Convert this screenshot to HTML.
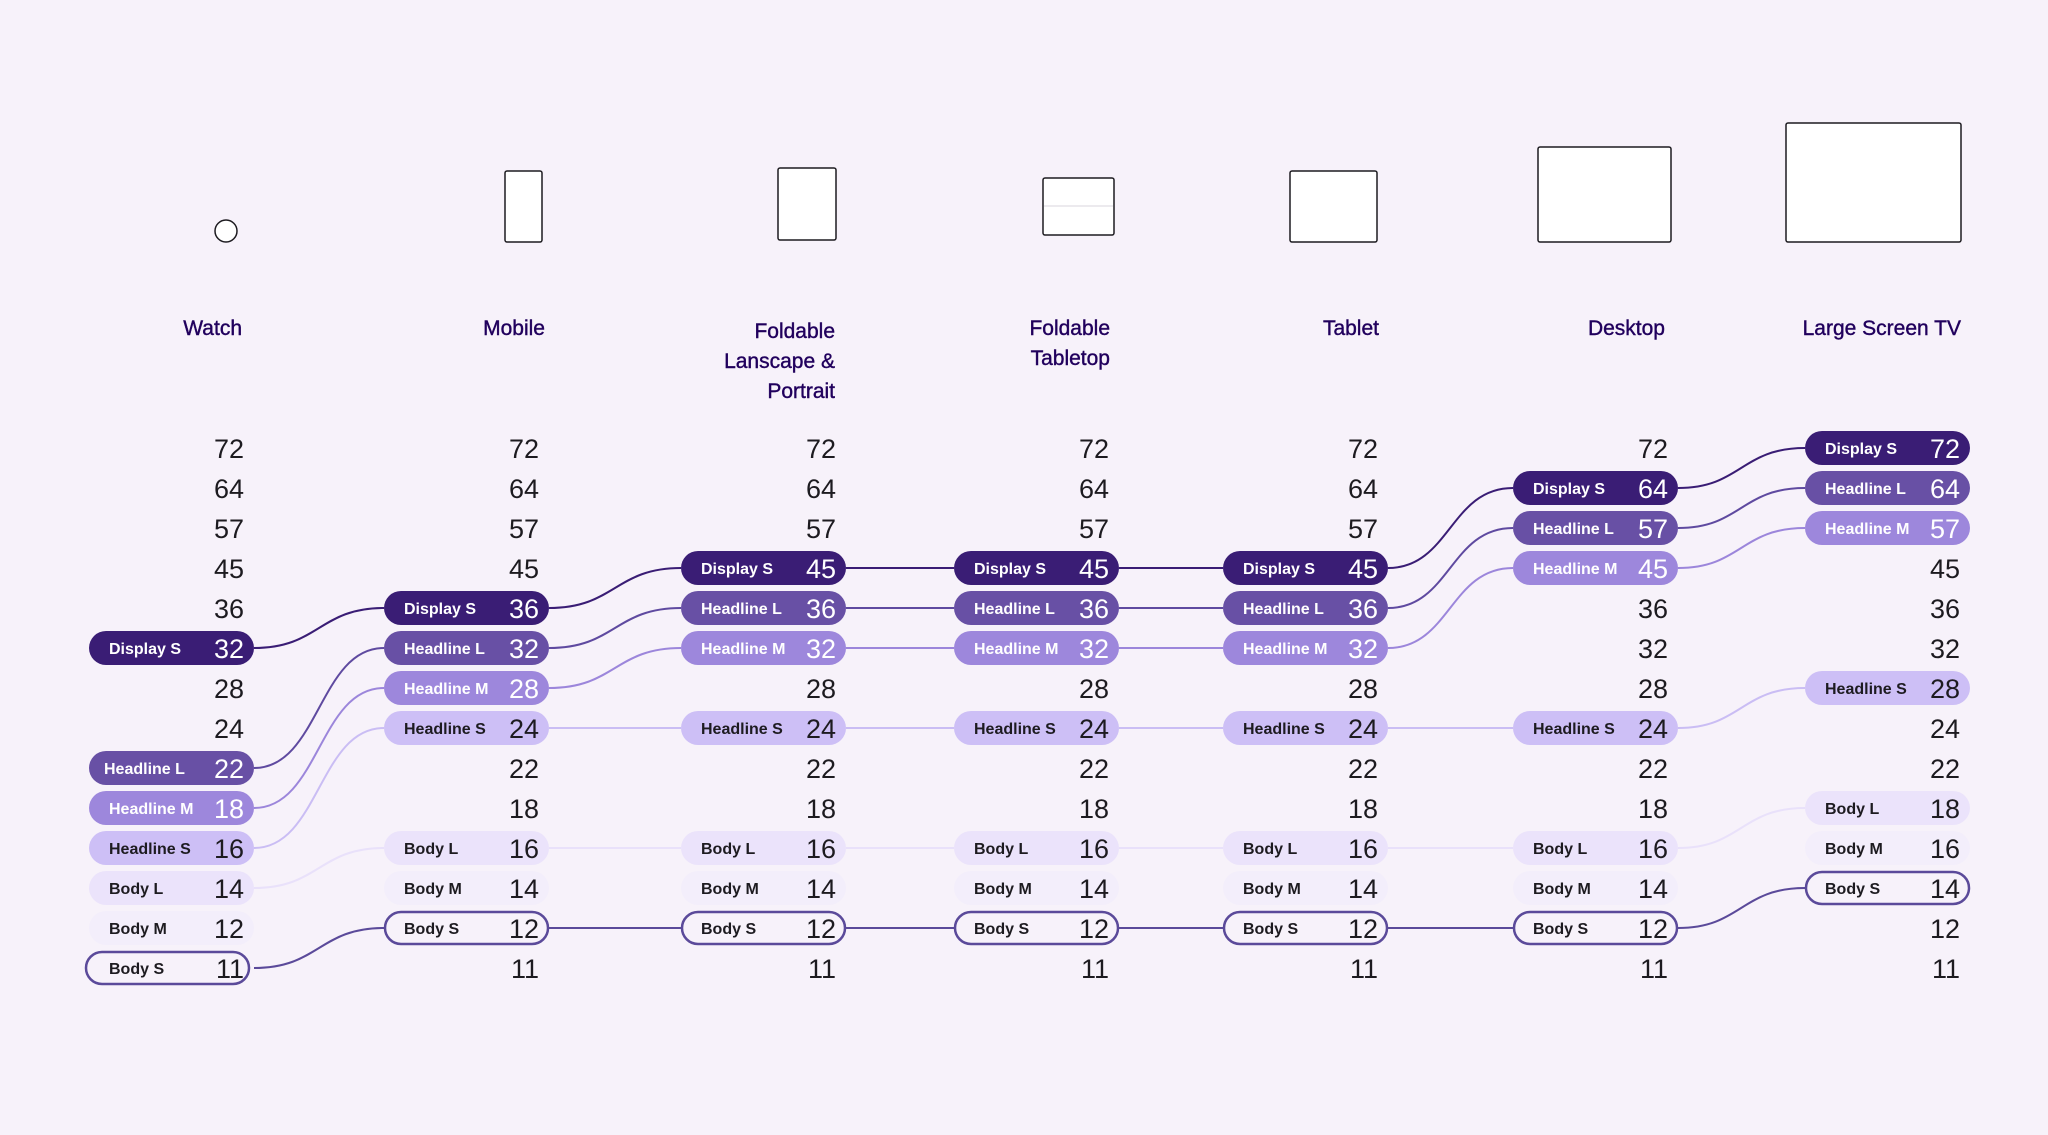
<!DOCTYPE html>
<html><head><meta charset="utf-8"><style>
html,body{margin:0;padding:0;background:#f7f2fa;}
svg{display:block;}
text{font-family:"Liberation Sans",Arial,sans-serif;}
.h{font-size:21px;fill:#21005d;text-anchor:end;stroke:#21005d;stroke-width:0.4;}
.n{font-size:27px;fill:#1d1b20;text-anchor:end;}
.nw{font-size:27px;fill:#ffffff;text-anchor:end;}
.lw{font-size:16px;font-weight:bold;fill:#ffffff;}
.ld{font-size:16px;font-weight:bold;fill:#1d1b20;}
.ds{fill:#3a1d75}.hl{fill:#6850a5}.hm{fill:#9d87dc}.hs{fill:#cdbff6}.bl{fill:#ebe3fb}.bm{fill:#f3eefb}
.bs{fill:#f7f2fa;stroke:#5b4a9a;stroke-width:2.5}
path{fill:none;stroke-width:2}
.dev{fill:#fff;stroke:#1d1b20;stroke-width:1.5}
</style></head><body>
<svg width="2048" height="1135" viewBox="0 0 2048 1135" xmlns="http://www.w3.org/2000/svg">
<rect width="2048" height="1135" fill="#f7f2fa"/>
<!-- devices -->
<circle class="dev" cx="226" cy="231" r="11"/>
<rect class="dev" x="505" y="171" width="37" height="71" rx="2"/>
<rect class="dev" x="778" y="168" width="58" height="72" rx="2"/>
<rect class="dev" x="1043" y="178" width="71" height="57" rx="2"/>
<line x1="1044" y1="206" x2="1113" y2="206" stroke="#d8d4dc" stroke-width="1"/>
<rect class="dev" x="1290" y="171" width="87" height="71" rx="2"/>
<rect class="dev" x="1538" y="147" width="133" height="95" rx="2"/>
<rect class="dev" x="1786" y="123" width="175" height="119" rx="2"/>
<!-- headers -->
<text class="h" x="242" y="335">Watch</text>
<text class="h" x="545" y="335">Mobile</text>
<text class="h" x="835" y="338">Foldable</text>
<text class="h" x="835" y="368">Lanscape &amp;</text>
<text class="h" x="835" y="398">Portrait</text>
<text class="h" x="1110" y="335">Foldable</text>
<text class="h" x="1110" y="365">Tabletop</text>
<text class="h" x="1379" y="335">Tablet</text>
<text class="h" x="1665" y="335">Desktop</text>
<text class="h" x="1961" y="335">Large Screen TV</text>
<!-- links -->
<g stroke="#3a1d75">
<path d="M254,648 C319,648 319,608 384,608"/><path d="M549,608 C615,608 615,568 681,568"/><path d="M846,568 C900,568 900,568 954,568"/><path d="M1119,568 C1171,568 1171,568 1223,568"/><path d="M1388,568 C1450,568 1450,488 1513,488"/><path d="M1678,488 C1741,488 1741,448 1805,448"/>
</g>
<g stroke="#5f4aa0">
<path d="M254,768 C319,768 319,648 384,648"/><path d="M549,648 C615,648 615,608 681,608"/><path d="M846,608 C900,608 900,608 954,608"/><path d="M1119,608 C1171,608 1171,608 1223,608"/><path d="M1388,608 C1450,608 1450,528 1513,528"/><path d="M1678,528 C1741,528 1741,488 1805,488"/>
</g>
<g stroke="#9c86db">
<path d="M254,808 C319,808 319,688 384,688"/><path d="M549,688 C615,688 615,648 681,648"/><path d="M846,648 C900,648 900,648 954,648"/><path d="M1119,648 C1171,648 1171,648 1223,648"/><path d="M1388,648 C1450,648 1450,568 1513,568"/><path d="M1678,568 C1741,568 1741,528 1805,528"/>
</g>
<g stroke="#cabdf4">
<path d="M254,848 C319,848 319,728 384,728"/><path d="M549,728 L681,728"/><path d="M846,728 L954,728"/><path d="M1119,728 L1223,728"/><path d="M1388,728 L1513,728"/><path d="M1678,728 C1741,728 1741,688 1805,688"/>
</g>
<g stroke="#e9e1fa">
<path d="M254,888 C319,888 319,848 384,848"/><path d="M549,848 L681,848"/><path d="M846,848 L954,848"/><path d="M1119,848 L1223,848"/><path d="M1388,848 L1513,848"/><path d="M1678,848 C1741,848 1741,808 1805,808"/>
</g>
<g stroke="#5b4a9a">
<path d="M254,968 C319,968 319,928 384,928"/><path d="M549,928 L681,928"/><path d="M846,928 L954,928"/><path d="M1119,928 L1223,928"/><path d="M1388,928 L1513,928"/><path d="M1678,928 C1741,928 1741,888 1805,888"/>
</g>

<!-- Col 0 Watch -->
<text class="n" x="244" y="458">72</text><text class="n" x="244" y="498">64</text><text class="n" x="244" y="538">57</text><text class="n" x="244" y="578">45</text><text class="n" x="244" y="618">36</text><text class="n" x="244" y="698">28</text><text class="n" x="244" y="738">24</text>
<rect class="ds" x="89" y="631" width="165" height="34" rx="17"/><text class="lw" x="109" y="654">Display S</text><text class="nw" x="244" y="658">32</text>
<rect class="hl" x="89" y="751" width="165" height="34" rx="17"/><text class="lw" x="104" y="774">Headline L</text><text class="nw" x="244" y="778">22</text>
<rect class="hm" x="89" y="791" width="165" height="34" rx="17"/><text class="lw" x="109" y="814">Headline M</text><text class="nw" x="244" y="818">18</text>
<rect class="hs" x="89" y="831" width="165" height="34" rx="17"/><text class="ld" x="109" y="854">Headline S</text><text class="n" x="244" y="858">16</text>
<rect class="bl" x="89" y="871" width="165" height="34" rx="17"/><text class="ld" x="109" y="894">Body L</text><text class="n" x="244" y="898">14</text>
<rect class="bm" x="89" y="911" width="165" height="34" rx="17"/><text class="ld" x="109" y="934">Body M</text><text class="n" x="244" y="938">12</text>
<rect class="bs" x="86" y="952" width="163" height="32" rx="16"/><text class="ld" x="109" y="974">Body S</text><text class="n" x="244" y="978">11</text>

<!-- Col 1 Mobile -->
<text class="n" x="539" y="458">72</text><text class="n" x="539" y="498">64</text><text class="n" x="539" y="538">57</text><text class="n" x="539" y="578">45</text><text class="n" x="539" y="778">22</text><text class="n" x="539" y="818">18</text><text class="n" x="539" y="978">11</text>
<rect class="ds" x="384" y="591" width="165" height="34" rx="17"/><text class="lw" x="404" y="614">Display S</text><text class="nw" x="539" y="618">36</text>
<rect class="hl" x="384" y="631" width="165" height="34" rx="17"/><text class="lw" x="404" y="654">Headline L</text><text class="nw" x="539" y="658">32</text>
<rect class="hm" x="384" y="671" width="165" height="34" rx="17"/><text class="lw" x="404" y="694">Headline M</text><text class="nw" x="539" y="698">28</text>
<rect class="hs" x="384" y="711" width="165" height="34" rx="17"/><text class="ld" x="404" y="734">Headline S</text><text class="n" x="539" y="738">24</text>
<rect class="bl" x="384" y="831" width="165" height="34" rx="17"/><text class="ld" x="404" y="854">Body L</text><text class="n" x="539" y="858">16</text>
<rect class="bm" x="384" y="871" width="165" height="34" rx="17"/><text class="ld" x="404" y="894">Body M</text><text class="n" x="539" y="898">14</text>
<rect class="bs" x="385" y="912" width="163" height="32" rx="16"/><text class="ld" x="404" y="934">Body S</text><text class="n" x="539" y="938">12</text>

<!-- Col 2 Foldable -->
<text class="n" x="836" y="458">72</text><text class="n" x="836" y="498">64</text><text class="n" x="836" y="538">57</text><text class="n" x="836" y="698">28</text><text class="n" x="836" y="778">22</text><text class="n" x="836" y="818">18</text><text class="n" x="836" y="978">11</text>
<rect class="ds" x="681" y="551" width="165" height="34" rx="17"/><text class="lw" x="701" y="574">Display S</text><text class="nw" x="836" y="578">45</text>
<rect class="hl" x="681" y="591" width="165" height="34" rx="17"/><text class="lw" x="701" y="614">Headline L</text><text class="nw" x="836" y="618">36</text>
<rect class="hm" x="681" y="631" width="165" height="34" rx="17"/><text class="lw" x="701" y="654">Headline M</text><text class="nw" x="836" y="658">32</text>
<rect class="hs" x="681" y="711" width="165" height="34" rx="17"/><text class="ld" x="701" y="734">Headline S</text><text class="n" x="836" y="738">24</text>
<rect class="bl" x="681" y="831" width="165" height="34" rx="17"/><text class="ld" x="701" y="854">Body L</text><text class="n" x="836" y="858">16</text>
<rect class="bm" x="681" y="871" width="165" height="34" rx="17"/><text class="ld" x="701" y="894">Body M</text><text class="n" x="836" y="898">14</text>
<rect class="bs" x="682" y="912" width="163" height="32" rx="16"/><text class="ld" x="701" y="934">Body S</text><text class="n" x="836" y="938">12</text>

<!-- Col 3 Tabletop -->
<text class="n" x="1109" y="458">72</text><text class="n" x="1109" y="498">64</text><text class="n" x="1109" y="538">57</text><text class="n" x="1109" y="698">28</text><text class="n" x="1109" y="778">22</text><text class="n" x="1109" y="818">18</text><text class="n" x="1109" y="978">11</text>
<rect class="ds" x="954" y="551" width="165" height="34" rx="17"/><text class="lw" x="974" y="574">Display S</text><text class="nw" x="1109" y="578">45</text>
<rect class="hl" x="954" y="591" width="165" height="34" rx="17"/><text class="lw" x="974" y="614">Headline L</text><text class="nw" x="1109" y="618">36</text>
<rect class="hm" x="954" y="631" width="165" height="34" rx="17"/><text class="lw" x="974" y="654">Headline M</text><text class="nw" x="1109" y="658">32</text>
<rect class="hs" x="954" y="711" width="165" height="34" rx="17"/><text class="ld" x="974" y="734">Headline S</text><text class="n" x="1109" y="738">24</text>
<rect class="bl" x="954" y="831" width="165" height="34" rx="17"/><text class="ld" x="974" y="854">Body L</text><text class="n" x="1109" y="858">16</text>
<rect class="bm" x="954" y="871" width="165" height="34" rx="17"/><text class="ld" x="974" y="894">Body M</text><text class="n" x="1109" y="898">14</text>
<rect class="bs" x="955" y="912" width="163" height="32" rx="16"/><text class="ld" x="974" y="934">Body S</text><text class="n" x="1109" y="938">12</text>

<!-- Col 4 Tablet -->
<text class="n" x="1378" y="458">72</text><text class="n" x="1378" y="498">64</text><text class="n" x="1378" y="538">57</text><text class="n" x="1378" y="698">28</text><text class="n" x="1378" y="778">22</text><text class="n" x="1378" y="818">18</text><text class="n" x="1378" y="978">11</text>
<rect class="ds" x="1223" y="551" width="165" height="34" rx="17"/><text class="lw" x="1243" y="574">Display S</text><text class="nw" x="1378" y="578">45</text>
<rect class="hl" x="1223" y="591" width="165" height="34" rx="17"/><text class="lw" x="1243" y="614">Headline L</text><text class="nw" x="1378" y="618">36</text>
<rect class="hm" x="1223" y="631" width="165" height="34" rx="17"/><text class="lw" x="1243" y="654">Headline M</text><text class="nw" x="1378" y="658">32</text>
<rect class="hs" x="1223" y="711" width="165" height="34" rx="17"/><text class="ld" x="1243" y="734">Headline S</text><text class="n" x="1378" y="738">24</text>
<rect class="bl" x="1223" y="831" width="165" height="34" rx="17"/><text class="ld" x="1243" y="854">Body L</text><text class="n" x="1378" y="858">16</text>
<rect class="bm" x="1223" y="871" width="165" height="34" rx="17"/><text class="ld" x="1243" y="894">Body M</text><text class="n" x="1378" y="898">14</text>
<rect class="bs" x="1224" y="912" width="163" height="32" rx="16"/><text class="ld" x="1243" y="934">Body S</text><text class="n" x="1378" y="938">12</text>

<!-- Col 5 Desktop -->
<text class="n" x="1668" y="458">72</text><text class="n" x="1668" y="618">36</text><text class="n" x="1668" y="658">32</text><text class="n" x="1668" y="698">28</text><text class="n" x="1668" y="778">22</text><text class="n" x="1668" y="818">18</text><text class="n" x="1668" y="978">11</text>
<rect class="ds" x="1513" y="471" width="165" height="34" rx="17"/><text class="lw" x="1533" y="494">Display S</text><text class="nw" x="1668" y="498">64</text>
<rect class="hl" x="1513" y="511" width="165" height="34" rx="17"/><text class="lw" x="1533" y="534">Headline L</text><text class="nw" x="1668" y="538">57</text>
<rect class="hm" x="1513" y="551" width="165" height="34" rx="17"/><text class="lw" x="1533" y="574">Headline M</text><text class="nw" x="1668" y="578">45</text>
<rect class="hs" x="1513" y="711" width="165" height="34" rx="17"/><text class="ld" x="1533" y="734">Headline S</text><text class="n" x="1668" y="738">24</text>
<rect class="bl" x="1513" y="831" width="165" height="34" rx="17"/><text class="ld" x="1533" y="854">Body L</text><text class="n" x="1668" y="858">16</text>
<rect class="bm" x="1513" y="871" width="165" height="34" rx="17"/><text class="ld" x="1533" y="894">Body M</text><text class="n" x="1668" y="898">14</text>
<rect class="bs" x="1514" y="912" width="163" height="32" rx="16"/><text class="ld" x="1533" y="934">Body S</text><text class="n" x="1668" y="938">12</text>

<!-- Col 6 TV -->
<text class="n" x="1960" y="578">45</text><text class="n" x="1960" y="618">36</text><text class="n" x="1960" y="658">32</text><text class="n" x="1960" y="738">24</text><text class="n" x="1960" y="778">22</text><text class="n" x="1960" y="938">12</text><text class="n" x="1960" y="978">11</text>
<rect class="ds" x="1805" y="431" width="165" height="34" rx="17"/><text class="lw" x="1825" y="454">Display S</text><text class="nw" x="1960" y="458">72</text>
<rect class="hl" x="1805" y="471" width="165" height="34" rx="17"/><text class="lw" x="1825" y="494">Headline L</text><text class="nw" x="1960" y="498">64</text>
<rect class="hm" x="1805" y="511" width="165" height="34" rx="17"/><text class="lw" x="1825" y="534">Headline M</text><text class="nw" x="1960" y="538">57</text>
<rect class="hs" x="1805" y="671" width="165" height="34" rx="17"/><text class="ld" x="1825" y="694">Headline S</text><text class="n" x="1960" y="698">28</text>
<rect class="bl" x="1805" y="791" width="165" height="34" rx="17"/><text class="ld" x="1825" y="814">Body L</text><text class="n" x="1960" y="818">18</text>
<rect class="bm" x="1805" y="831" width="165" height="34" rx="17"/><text class="ld" x="1825" y="854">Body M</text><text class="n" x="1960" y="858">16</text>
<rect class="bs" x="1806" y="872" width="163" height="32" rx="16"/><text class="ld" x="1825" y="894">Body S</text><text class="n" x="1960" y="898">14</text>
</svg>
</body></html>
